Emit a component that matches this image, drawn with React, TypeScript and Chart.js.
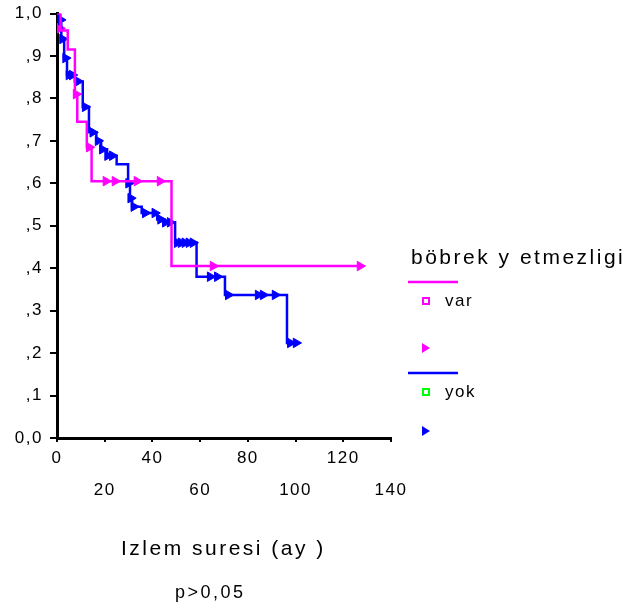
import React, { useEffect, useRef } from 'react';
import { Chart, registerables } from 'chart.js';

Chart.register(...registerables);

// Kaplan-Meier curve: böbrek yetmezligi = var (magenta)
const varTimes = [0, 1.5, 4.5, 7.5, 8.5, 12.5, 14.5, 48, 127];
const varSurvival = [1.0, 0.96, 0.915, 0.81, 0.745, 0.685, 0.605, 0.405, 0.405];
const varCensorTimes = [1.2, 8.0, 13.5, 20.5, 24.3, 33.5, 43.2, 65.4, 127];
const varCensorSurvival = [0.965, 0.81, 0.685, 0.605, 0.605, 0.605, 0.605, 0.405, 0.405];

// Kaplan-Meier curve: böbrek yetmezligi = yok (blue)
const yokTimes = [0, 1.0, 1.8, 3.0, 4.2, 7.5, 10.8, 13.4, 16.5, 18.5, 21, 25, 29.8, 30.6, 31.5, 35.5, 42, 45, 49.5, 58.5, 70.4, 96.4, 100];
const yokSurvival = [1.0, 0.975, 0.94, 0.895, 0.855, 0.84, 0.78, 0.72, 0.7, 0.68, 0.665, 0.645, 0.6, 0.565, 0.545, 0.53, 0.515, 0.508, 0.46, 0.38, 0.337, 0.224, 0.224];
const yokCensorTimes = [1.5, 2.3, 3.6, 5.0, 6.4, 8.8, 11.8, 15.0, 17.2, 19.0, 21.2, 23.2, 30.0, 30.9, 32.2, 37, 41, 43.4, 45.4, 47.4, 50.4, 52, 53.6, 55.3, 57, 64.2, 67.2, 71.8, 84.3, 86.4, 91.4, 97.8, 100.2];
const yokCensorSurvival = [0.985, 0.94, 0.895, 0.855, 0.855, 0.84, 0.78, 0.72, 0.7, 0.68, 0.665, 0.665, 0.6, 0.565, 0.545, 0.53, 0.53, 0.515, 0.508, 0.508, 0.46, 0.46, 0.46, 0.46, 0.46, 0.38, 0.38, 0.337, 0.337, 0.337, 0.337, 0.224, 0.224];

// axes & texts
const xMin = 0;
const xMax = 140;
const xStep = 20;
const yMin = 0;
const yMax = 1;
const yStep = 0.1;
const xTitle = 'Izlem suresi (ay )';
const pText = 'p>0,05';
const legendTitle = 'böbrek y etmezligi';
const groupLabels = ['var', 'yok'];

const MAGENTA = '#ff00ff';
const BLUE = '#0000ff';
const GREEN = '#00ff00';
const FONT = '"Liberation Sans", Arial, sans-serif';

const toPoints = (xs: number[], ys: number[]) => xs.map((x, i) => ({ x, y: ys[i] }));

const yTickLabel = (v: number) => {
  const n = Math.round(v * 10);
  if (n === 10) return '1,0';
  if (n === 0) return '0,0';
  return ',' + n;
};

const textPlugin = {
  id: 'textPlugin',
  beforeDraw(chart: any) {
    chart.ctx.letterSpacing = '1.5px';
  },
  afterDraw(chart: any) {
    const ctx = chart.ctx as CanvasRenderingContext2D;
    ctx.save();
    ctx.fillStyle = '#000';
    ctx.textBaseline = 'middle';
    ctx.textAlign = 'left';
    // x axis title
    (ctx as any).letterSpacing = '2.5px';
    ctx.font = `21px ${FONT}`;
    ctx.fillText(xTitle, 121, 549);
    // legend title
    ctx.fillText(legendTitle, 411, 258);
    // p value
    (ctx as any).letterSpacing = '2.5px';
    ctx.font = `18px ${FONT}`;
    ctx.fillText(pText, 175, 593);
    // legend entries
    const drawLine = (y: number, color: string) => {
      ctx.strokeStyle = color;
      ctx.lineWidth = 2.5;
      ctx.beginPath();
      ctx.moveTo(408, y);
      ctx.lineTo(458, y);
      ctx.stroke();
    };
    const drawSquare = (y: number, color: string) => {
      ctx.strokeStyle = color;
      ctx.lineWidth = 2;
      ctx.strokeRect(423, y - 3, 6, 6);
    };
    const drawTri = (y: number, color: string) => {
      ctx.fillStyle = color;
      ctx.beginPath();
      ctx.moveTo(422, y - 5);
      ctx.lineTo(430, y);
      ctx.lineTo(422, y + 5);
      ctx.closePath();
      ctx.fill();
    };
    drawLine(282, MAGENTA);
    drawSquare(301, MAGENTA);
    drawTri(348, MAGENTA);
    drawLine(373, BLUE);
    drawSquare(392, GREEN);
    drawTri(431, BLUE);
    ctx.fillStyle = '#000';
    (ctx as any).letterSpacing = '1.5px';
    ctx.font = `17px ${FONT}`;
    ctx.fillText(groupLabels[0], 445, 301);
    ctx.fillText(groupLabels[1], 445, 392);
    ctx.restore();
    (ctx as any).letterSpacing = '0px';
  },
};

export default function App() {
  const ref = useRef<HTMLCanvasElement>(null);
  useEffect(() => {
    if (!ref.current) return;
    const censorStyle = (color: string) => ({
      showLine: false,
      pointStyle: 'triangle' as const,
      rotation: 90,
      pointRadius: 5.5,
      pointHoverRadius: 5.5,
      pointBackgroundColor: color,
      pointBorderColor: color,
      pointBorderWidth: 1,
      borderColor: color,
      backgroundColor: color,
    });
    const chart = new Chart(ref.current, {
      type: 'scatter',
      data: {
        datasets: [
          {
            label: 'var',
            data: toPoints(varTimes, varSurvival),
            showLine: true,
            stepped: 'before',
            borderColor: MAGENTA,
            borderWidth: 2.5,
            pointRadius: 0,
            fill: false,
          },
          {
            label: 'yok',
            data: toPoints(yokTimes, yokSurvival),
            showLine: true,
            stepped: 'before',
            borderColor: BLUE,
            borderWidth: 2.5,
            pointRadius: 0,
            fill: false,
          },
          {
            label: 'var censored',
            data: toPoints(varCensorTimes, varCensorSurvival),
            ...censorStyle(MAGENTA),
          },
          {
            label: 'yok censored',
            data: toPoints(yokCensorTimes, yokCensorSurvival),
            ...censorStyle(BLUE),
          },
        ],
      },
      options: {
        responsive: false,
        animation: false,
        devicePixelRatio: 1,
        layout: { padding: { top: 13.5, right: 239, left: 0, bottom: 0 } },
        plugins: { legend: { display: false }, tooltip: { enabled: false } },
        scales: {
          x: {
            type: 'linear',
            min: xMin,
            max: xMax,
            ticks: {
              stepSize: xStep,
              autoSkip: false,
              maxRotation: 0,
              padding: 0,
              color: '#000',
              font: { family: FONT, size: 17, lineHeight: 1.9 },
              callback: (v: any) => {
                const idx = Math.round(Number(v) / xStep);
                return idx % 2 === 0 ? [String(v)] : ['', String(v)];
              },
            },
            grid: { drawOnChartArea: false, drawTicks: true, tickLength: 4, color: '#000', lineWidth: 2 },
            border: { color: '#000', width: 3 },
            afterFit: (s: any) => {
              s.height = 174;
              s.paddingLeft = 0;
              s.paddingRight = 0;
            },
          },
          y: {
            min: yMin,
            max: yMax,
            ticks: {
              stepSize: yStep,
              autoSkip: false,
              padding: 7,
              color: '#000',
              font: { family: FONT, size: 17 },
              callback: (v: any) => yTickLabel(Number(v)),
            },
            grid: { drawOnChartArea: false, drawTicks: true, tickLength: 7, color: '#000', lineWidth: 2 },
            border: { color: '#000', width: 3 },
            afterFit: (s: any) => {
              s.width = 57;
              s.paddingTop = 0;
              s.paddingBottom = 0;
            },
          },
        },
      },
      plugins: [textPlugin],
    } as any);
    return () => chart.destroy();
  }, []);
  return (
    <div style={{ position: 'absolute', left: 0, top: 0, width: 630, height: 612, background: '#fff' }}>
      <canvas ref={ref} width={630} height={612} style={{ width: 630, height: 612, display: 'block' }} />
    </div>
  );
}
